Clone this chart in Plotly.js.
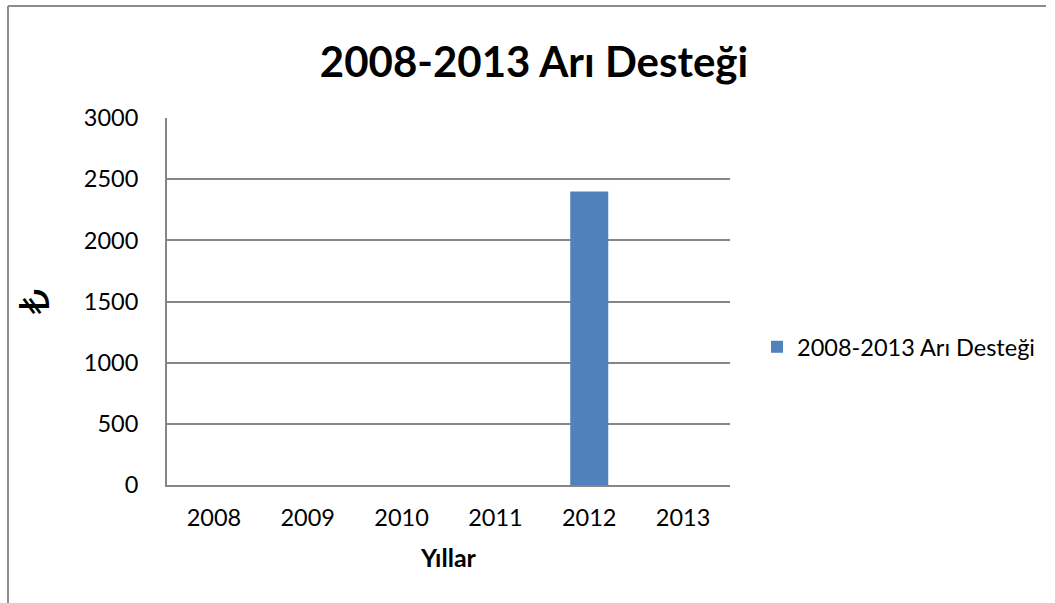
<!DOCTYPE html>
<html>
<head>
<meta charset="utf-8">
<script src="https://cdn.plot.ly/plotly-3.0.1.min.js"></script>
<style>html,body{margin:0;padding:0;background:#fff;}#chart{width:1055px;height:603px;}</style>
</head>
<body>
<div id="chart"></div>
<script>
const years = ['2008', '2009', '2010', '2011', '2012', '2013'];
const values = [0, 0, 0, 0, 2400, 0];
const seriesName = '2008-2013 Arı Desteği';
const chartTitle = '2008-2013 Arı Desteği';
const xTitle = 'Yıllar';
const yTitle = '₺';
const yTicks = [0, 500, 1000, 1500, 2000, 2500, 3000];

const W = 1055, H = 603;
const L = 167, R = 730, T = 118, B = 485;
const px = x => (x - L) / (R - L);
const py = y => (B - y) / (B - T);

const font = "Lato, 'Open Sans', 'DejaVu Sans', sans-serif";

const trace = {
  type: 'bar',
  x: years,
  y: values,
  name: seriesName,
  marker: {color: '#4F81BD'},
  showlegend: true
};

const layout = {
  width: W, height: H,
  margin: {l: L, r: W - R, t: T, b: H - B, pad: 0},
  paper_bgcolor: '#ffffff',
  plot_bgcolor: '#ffffff',
  font: {family: font, size: 23.5, color: '#000000'},
  title: {
    text: '<b>' + chartTitle + '</b>',
    font: {family: font, size: 42, color: '#000000'},
    x: px(534), xref: 'paper', xanchor: 'center',
    y: 1 - 62 / H, yref: 'container', yanchor: 'middle'
  },
  bargap: 0.595,
  showlegend: true,
  legend: {
    x: px(757), xanchor: 'left',
    y: py(347), yanchor: 'middle',
    font: {family: font, size: 23.5, color: '#000000'},
    bgcolor: 'rgba(0,0,0,0)',
    itemwidth: 30
  },
  xaxis: {
    type: 'category',
    showgrid: false,
    showline: true,
    linecolor: '#868686',
    linewidth: 2,
    ticks: '',
    ticklen: 0,
    ticklabelstandoff: 11,
    tickfont: {family: font, size: 23.5, color: '#000000'},
    title: {text: '<b>' + xTitle + '</b>', font: {family: font, size: 25, color: '#000000'}, standoff: 19},
    zeroline: false
  },
  yaxis: {
    range: [0, 3000],
    tickvals: yTicks,
    showgrid: true,
    gridcolor: '#868686',
    gridwidth: 2,
    showline: true,
    linecolor: '#868686',
    linewidth: 2,
    zeroline: false,
    ticks: '',
    ticklabelstandoff: 22,
    tickfont: {family: font, size: 23.5, color: '#000000'},
    title: {text: yTitle, font: {family: "'DejaVu Sans', sans-serif", size: 40, color: '#000000'}, standoff: 22}
  },
  shapes: [
    {type: 'line', xref: 'paper', yref: 'paper', x0: px(8), x1: px(8), y0: py(6), y1: py(610), line: {color: '#8c8c8c', width: 2}},
    {type: 'line', xref: 'paper', yref: 'paper', x0: px(8), x1: px(1046), y0: py(6), y1: py(6), line: {color: '#8c8c8c', width: 2}}
  ]
};

Plotly.newPlot('chart', [trace], layout, {displayModeBar: false, staticPlot: true});
</script>
</body>
</html>
